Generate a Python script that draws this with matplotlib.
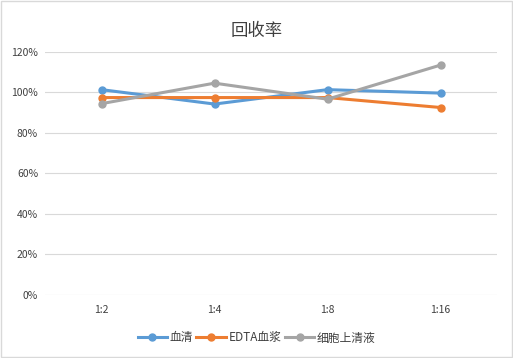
import matplotlib
matplotlib.use('Agg')
import matplotlib.pyplot as plt
from matplotlib.ticker import FuncFormatter

plt.rcParams['font.family'] = ['Noto Sans CJK SC', 'DejaVu Sans']

# Datos
categorias = ['1:2', '1:4', '1:8', '1:16']
serie_nombres = ['血清', 'EDTA血浆', '细胞上清液']
suero = [101.2, 94.1, 101.2, 99.5]
plasma_edta = [97.3, 97.3, 97.3, 92.4]
sobrenadante = [94.3, 104.4, 96.5, 113.3]
colores = ['#5B9BD5', '#ED7D31', '#A5A5A5']

fig = plt.figure(figsize=(5.13, 3.58), dpi=100)
ax = fig.add_axes([45 / 513, 1 - 295 / 358, 452 / 513, (295 - 51.5) / 358])

x = range(len(categorias))
for valores, nombre, color in zip([suero, plasma_edta, sobrenadante], serie_nombres, colores):
    ax.plot(x, valores, color=color, linewidth=2.2, marker='o', markersize=5, label=nombre)

ax.set_xlim(-0.5, len(categorias) - 0.5)
ax.set_ylim(0, 120)
ax.set_yticks(range(0, 121, 20))
ax.yaxis.set_major_formatter(FuncFormatter(lambda v, p: f'{v:.0f}%'))
ax.set_xticks(list(x))
ax.set_xticklabels(categorias)
ax.tick_params(axis='both', length=0, labelsize=7.5, colors='#404040', pad=7)
ax.tick_params(axis='y', pad=5)
ax.grid(axis='y', color='#D9D9D9', linewidth=0.8)
ax.set_axisbelow(True)
for s in ax.spines.values():
    s.set_visible(False)

fig.text(0.5, 1 - 31 / 358, '回收率', ha='center', va='center', fontsize=12.5,
         color='#404040', fontweight='light')

fig.legend(loc='center', bbox_to_anchor=(0.5, 1 - 338 / 358), ncol=3, frameon=False,
           fontsize=8.5, handlelength=2.5, columnspacing=0.3, handletextpad=0.2,
           labelcolor='#404040')

# Marco exterior
fig.patches.append(plt.Rectangle((0.001, 0.002), 0.997, 0.995, transform=fig.transFigure,
                                 fill=False, edgecolor='#D9D9D9', linewidth=1))

fig.savefig('out.png', dpi=100)
